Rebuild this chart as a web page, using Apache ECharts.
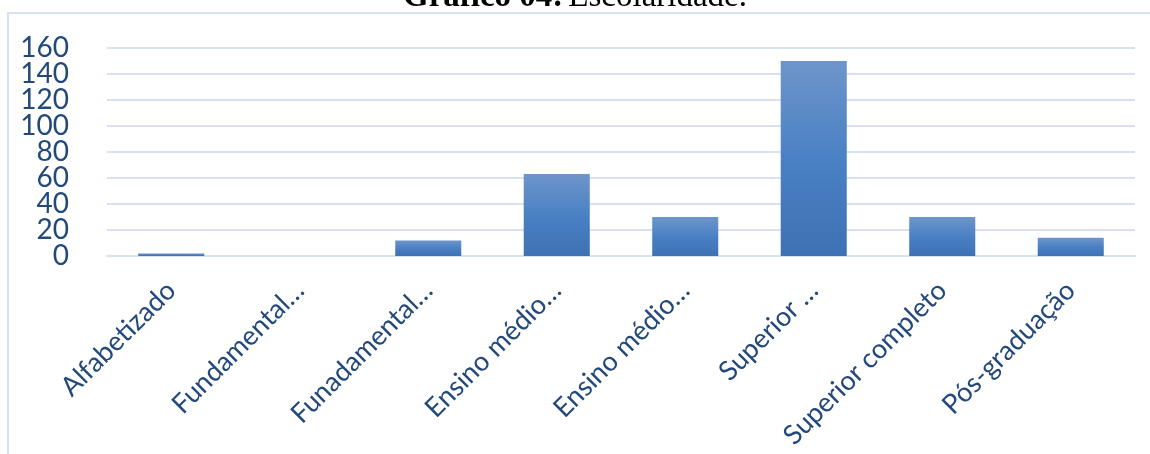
<!DOCTYPE html>
<html>
<head>
<meta charset="utf-8">
<script src="https://cdn.jsdelivr.net/npm/echarts@6/dist/echarts.min.js"></script>
<style>
  html, body { margin: 0; padding: 0; background: #ffffff; }
  #chart { width: 1150px; height: 454px; }
</style>
</head>
<body>
<div id="chart"></div>
<script>
// Escolaridade dos respondentes
const categories = [
  'Alfabetizado',
  'Fundamental…',
  'Funadamental…',
  'Ensino médio…',
  'Ensino médio…',
  'Superior …',
  'Superior completo',
  'Pós-graduação'
];
const values = [2, 0, 12, 63, 30, 150, 30, 14];
const yMin = 0;
const yMax = 160;
const yInterval = 20;
// tick labels, split across two stacked axes so the large digits are never culled
const yLabelsA = [0, 40, 80, 120, 160];
const yLabelsB = [20, 60, 100, 140];

const labelColor = '#23497b';
const gridColor = '#d7e1f0';

const chart = echarts.init(document.getElementById('chart'), null, { renderer: 'canvas' });

function yAxisDef(labels, showGrid) {
  return {
    type: 'value',
    position: 'left',
    min: yMin,
    max: yMax,
    interval: yInterval,
    axisLine: { show: false },
    axisTick: { show: false },
    splitLine: { show: showGrid, lineStyle: { color: gridColor, width: 2 } },
    axisLabel: {
      margin: 38,
      customValues: labels,
      showMinLabel: true,
      showMaxLabel: true,
      hideOverlap: false,
      color: labelColor,
      fontFamily: 'Lato',
      fontSize: 28
    }
  };
}

chart.setOption({
  animation: false,
  backgroundColor: '#ffffff',
  title: {
    text: '{b|Gráfico 04:} {r|Escolaridade.}',
    left: 'center',
    top: -24,
    textStyle: {
      rich: {
        b: { fontFamily: 'Liberation Serif', fontWeight: 'bold', fontSize: 33, color: '#000' },
        r: { fontFamily: 'Liberation Serif', fontWeight: 'normal', fontSize: 33, color: '#000' }
      }
    }
  },
  graphic: [
    {
      type: 'polyline',
      shape: { points: [[8, 454], [8, 13], [1150, 13]] },
      style: { stroke: gridColor, lineWidth: 2, fill: null },
      silent: true
    }
  ],
  grid: { left: 107, right: 15, top: 48, bottom: 198 },
  xAxis: {
    type: 'category',
    data: categories,
    axisLine: { show: true, lineStyle: { color: gridColor, width: 2 } },
    axisTick: { show: false },
    axisLabel: {
      rotate: 45,
      margin: 30,
      interval: 0,
      hideOverlap: false,
      color: labelColor,
      fontFamily: 'Lato',
      fontSize: 27
    }
  },
  yAxis: [yAxisDef(yLabelsA, true), yAxisDef(yLabelsB, false)],
  series: [{
    type: 'bar',
    yAxisIndex: 0,
    data: values,
    barCategoryGap: '48.6%',
    itemStyle: {
      color: new echarts.graphic.LinearGradient(0, 0, 0, 1, [
        { offset: 0, color: '#6e95ca' },
        { offset: 0.5, color: '#4a81c4' },
        { offset: 1, color: '#3d71b3' }
      ])
    }
  }]
});
</script>
</body>
</html>
